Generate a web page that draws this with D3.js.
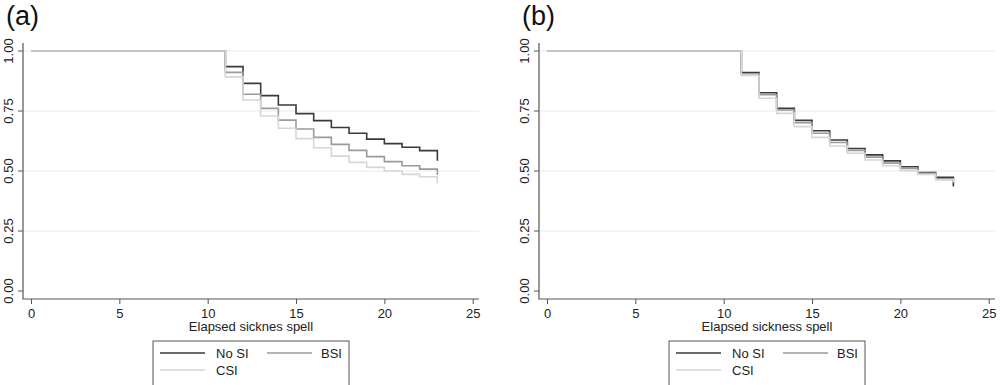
<!DOCTYPE html>
<html>
<head>
<meta charset="utf-8">
<script src="https://cdn.jsdelivr.net/npm/d3@7"></script>
<style>
  body { margin: 0; background: #fff; }
  svg { display: block; font-family: "Liberation Sans", Arial, sans-serif; }
</style>
</head>
<body>
<svg id="chart" width="1000" height="385"></svg>
<script>
'use strict';

// time points of the step curves (elapsed sickness spell)
var times = [0, 11, 12, 13, 14, 15, 16, 17, 18, 19, 20, 21, 22, 23];

// panel (a)
var noSiA  = [1, 0.935, 0.865, 0.814, 0.775, 0.739, 0.710, 0.681, 0.657, 0.633, 0.614, 0.599, 0.585, 0.543];
var bsiA   = [1, 0.911, 0.820, 0.761, 0.712, 0.675, 0.640, 0.611, 0.586, 0.560, 0.539, 0.522, 0.508, 0.483];
var csiA   = [1, 0.892, 0.796, 0.729, 0.678, 0.635, 0.597, 0.562, 0.536, 0.515, 0.500, 0.486, 0.476, 0.449];

// panel (b)
var noSiB  = [1, 0.910, 0.826, 0.761, 0.711, 0.668, 0.629, 0.594, 0.567, 0.542, 0.518, 0.494, 0.474, 0.435];
var bsiB   = [1, 0.905, 0.818, 0.754, 0.701, 0.657, 0.619, 0.586, 0.558, 0.533, 0.511, 0.490, 0.468, 0.455];
var csiB   = [1, 0.898, 0.803, 0.740, 0.685, 0.640, 0.604, 0.574, 0.546, 0.522, 0.501, 0.486, 0.463, 0.452];

var xTicks = [0, 5, 10, 15, 20, 25];
var yTicks = [0, 0.25, 0.5, 0.75, 1];
var seriesNames = ["No SI", "BSI", "CSI"];
var seriesColors = ["#3a3a3a", "#9a9a9a", "#d6d6d6"];

var panels = [
  { label: "(a)", title: "Elapsed sicknes spell", series: [noSiA, bsiA, csiA], dx: 0 },
  { label: "(b)", title: "Elapsed sickness spell", series: [noSiB, bsiB, csiB], dx: 516 }
];

var svg = d3.select("#chart");

// plot frame inside one panel
var frameLeft = 23, frameRight = 479, frameTop = 43, frameBottom = 299;

var x = d3.scaleLinear().domain([0, 25]).range([31, 472.7]);
var y = d3.scaleLinear().domain([0, 1]).range([291, 51]);

panels.forEach(function(p) {
  var g = svg.append("g").attr("transform", "translate(" + p.dx + ",0)");

  g.append("text")
    .attr("x", 6).attr("y", 25)
    .attr("font-size", 27)
    .attr("fill", "#111")
    .text(p.label);

  // grid lines
  g.selectAll(".grid").data(yTicks.filter(function(d) { return d > 0; }))
    .enter().append("line")
    .attr("x1", frameLeft + 1).attr("x2", frameRight)
    .attr("y1", function(d) { return y(d); })
    .attr("y2", function(d) { return y(d); })
    .attr("stroke", "#e4ecef").attr("stroke-width", 1);

  // y axis
  var yAxis = g.append("g").attr("transform", "translate(" + frameLeft + ",0)")
    .call(d3.axisLeft(y).tickValues(yTicks).tickFormat(d3.format(".2f")).tickSize(5).tickPadding(4));
  yAxis.select(".domain").remove();
  yAxis.selectAll(".tick").attr("transform", null);
  yAxis.selectAll(".tick line").attr("stroke", "#555")
    .attr("y1", function(d) { return y(d); }).attr("y2", function(d) { return y(d); });
  yAxis.selectAll(".tick text")
    .attr("font-size", 13).attr("fill", "#222")
    .attr("x", -15).attr("y", function(d) { return y(d); })
    .attr("dy", "0.35em")
    .attr("text-anchor", "middle")
    .attr("transform", function(d) { return "rotate(-90," + (-15) + "," + y(d) + ")"; });

  // x axis
  var xAxis = g.append("g").attr("transform", "translate(0," + frameBottom + ")")
    .call(d3.axisBottom(x).tickValues(xTicks).tickSize(5).tickPadding(5));
  xAxis.select(".domain").remove();
  xAxis.selectAll(".tick line").attr("stroke", "#555");
  xAxis.selectAll(".tick text").attr("font-size", 13).attr("fill", "#222");

  // axis lines
  g.append("path")
    .attr("d", "M" + frameLeft + "," + frameTop + "V" + frameBottom + "H" + frameRight)
    .attr("fill", "none").attr("stroke", "#555").attr("stroke-width", 1.2);

  g.append("text")
    .attr("x", (frameLeft + frameRight) / 2).attr("y", 331)
    .attr("text-anchor", "middle").attr("font-size", 13).attr("fill", "#222")
    .text(p.title);

  // step curves
  var line = d3.line()
    .x(function(d, i) { return x(times[i]); })
    .y(function(d) { return y(d); })
    .curve(d3.curveStepAfter);

  p.series.forEach(function(s, i) {
    g.append("path")
      .attr("d", line(s))
      .attr("fill", "none")
      .attr("stroke", seriesColors[i])
      .attr("stroke-width", 1.6);
  });

  // legend
  var lg = g.append("g").attr("transform", "translate(153,341)");
  lg.append("rect")
    .attr("x", 0).attr("y", 0).attr("width", 196).attr("height", 60)
    .attr("fill", "#fff").attr("stroke", "#555").attr("stroke-width", 1);

  var pos = [
    { lx: 7, tx: 63, ty: 12, anchor: "start" },
    { lx: 114, tx: 189, ty: 12, anchor: "end" },
    { lx: 7, tx: 63, ty: 29, anchor: "start" }
  ];
  seriesNames.forEach(function(name, i) {
    var q = pos[i];
    lg.append("line")
      .attr("x1", q.lx).attr("x2", q.lx + 45)
      .attr("y1", q.ty).attr("y2", q.ty)
      .attr("stroke", seriesColors[i]).attr("stroke-width", 1.6);
    lg.append("text")
      .attr("x", q.tx).attr("y", q.ty).attr("dy", "0.35em")
      .attr("text-anchor", q.anchor).attr("font-size", 13).attr("fill", "#222")
      .text(name);
  });
});
</script>
</body>
</html>
